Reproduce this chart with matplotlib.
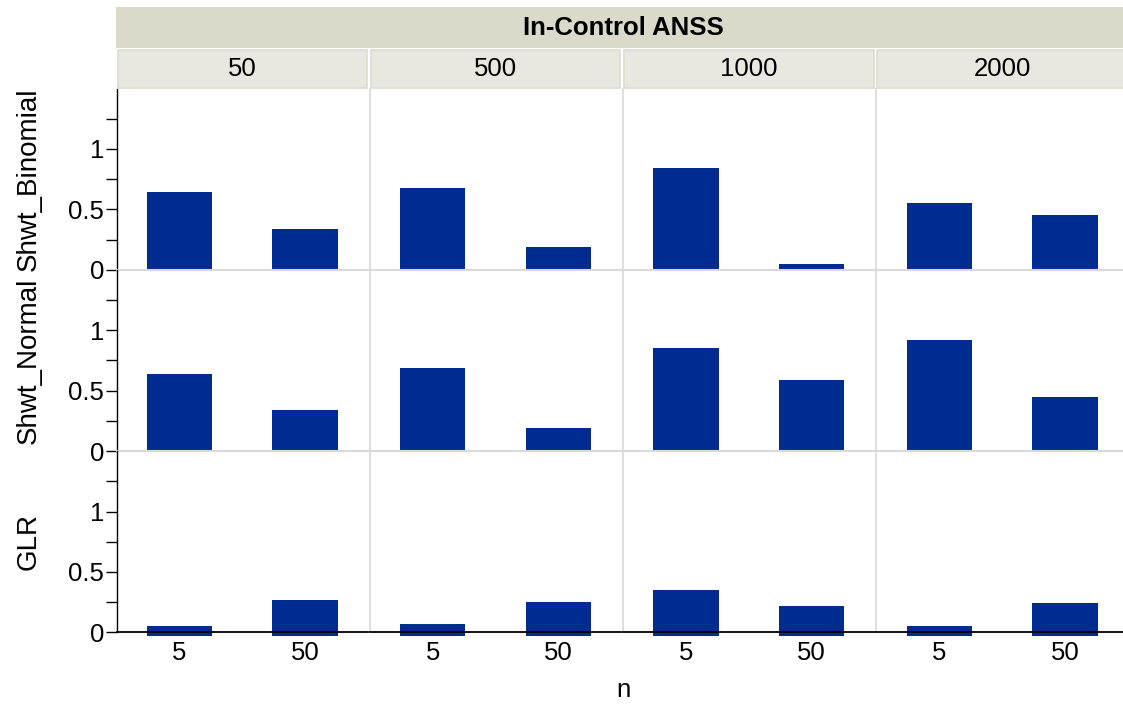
import numpy as np
import matplotlib.pyplot as plt
from matplotlib.patches import Rectangle

plt.rcParams['font.family'] = ['Liberation Sans', 'DejaVu Sans']

# data: rows = method, cols = in-control ANSS, pairs = (n=5, n=50)
anss = ['50', '500', '1000', '2000']
methods = ['Shwt_Binomial', 'Shwt_Normal', 'GLR']
n_labels = ['5', '50']

shwt_binomial = [[0.64, 0.34], [0.68, 0.19], [0.84, 0.05], [0.55, 0.45]]
shwt_normal = [[0.64, 0.34], [0.69, 0.19], [0.85, 0.59], [0.92, 0.45]]
glr = [[0.05, 0.27], [0.07, 0.25], [0.35, 0.22], [0.05, 0.24]]
values = [shwt_binomial, shwt_normal, glr]

bar_color = '#002B91'
sep_color = '#D9D9D9'

W, H = 1123, 704
fig = plt.figure(figsize=(W / 100, H / 100), dpi=100)


def px(x, y, w, h):
    # pixel box (top-left origin) -> figure fraction
    return [x / W, 1 - (y + h) / H, w / W, h / H]


left0, pitch, colw = 116.5, 253.3, 251.5
top0, rowh = 88.5, 181.3
base = 0.03  # bars start a hair below zero, like the original

for r, meth in enumerate(methods):
    for c, a in enumerate(anss):
        ax = fig.add_axes(px(left0 + c * pitch, top0 + r * rowh, colw, rowh))
        x = np.arange(len(n_labels))
        ax.bar(x, np.array(values[r][c]) + base, bottom=-base, width=0.52,
               color=bar_color, clip_on=(r < len(methods) - 1))
        ax.set_xlim(-0.5, 1.5)
        ax.set_ylim(0, 1.5)
        ax.set_facecolor('none')
        for s in ['top', 'right']:
            ax.spines[s].set_visible(False)
        if c == 0:
            ax.spines['left'].set_color('black')
            ax.spines['left'].set_linewidth(1.0)
            ax.set_yticks([0, 0.5, 1])
            ax.set_yticklabels(['0', '0.5', '1'])
            ax.set_yticks([0.25, 0.75, 1.25], minor=True)
            ax.tick_params(axis='y', which='both', length=8, width=1.0,
                           labelsize=18.5, pad=1)
        else:
            ax.spines['left'].set_color(sep_color)
            ax.spines['left'].set_linewidth(1.2)
            ax.set_yticks([])
        if r == len(methods) - 1:
            ax.spines['bottom'].set_color('black')
            ax.spines['bottom'].set_linewidth(1.3)
            ax.set_xticks(x)
            ax.set_xticklabels(n_labels)
            ax.tick_params(axis='x', length=0, labelsize=18.5, pad=6)
        else:
            ax.spines['bottom'].set_color(sep_color)
            ax.spines['bottom'].set_linewidth(1.5)
            ax.set_xticks([])

    fig.text(29 / W, 1 - (top0 + (r + 0.5) * rowh) / H, meth, rotation=90,
             ha='center', va='center', fontsize=20)

# header bands
fig.patches.append(Rectangle((116 / W, 1 - 48 / H), (W - 116) / W, 41 / H,
                             transform=fig.transFigure, facecolor='#DBD9CA',
                             edgecolor='none', zorder=0))
fig.text((left0 + 2 * pitch) / W, 1 - 28 / H, 'In-Control ANSS', ha='center',
         va='center', fontsize=18.5, fontweight='bold')
for c, a in enumerate(anss):
    cx = left0 + c * pitch
    fig.patches.append(Rectangle(((cx + 1) / W, 1 - 88 / H), (colw - 2) / W, 38 / H,
                                 transform=fig.transFigure, facecolor='#E8E8E0',
                                 edgecolor='#DCDCCE', linewidth=1.2, zorder=0))
    fig.text((cx + colw / 2) / W, 1 - 69 / H, a, ha='center', va='center',
             fontsize=18.5)

fig.text((left0 + 2 * pitch) / W, 1 - 690 / H, 'n', ha='center', va='center',
         fontsize=18.5)

fig.savefig('out.png', dpi=100)
